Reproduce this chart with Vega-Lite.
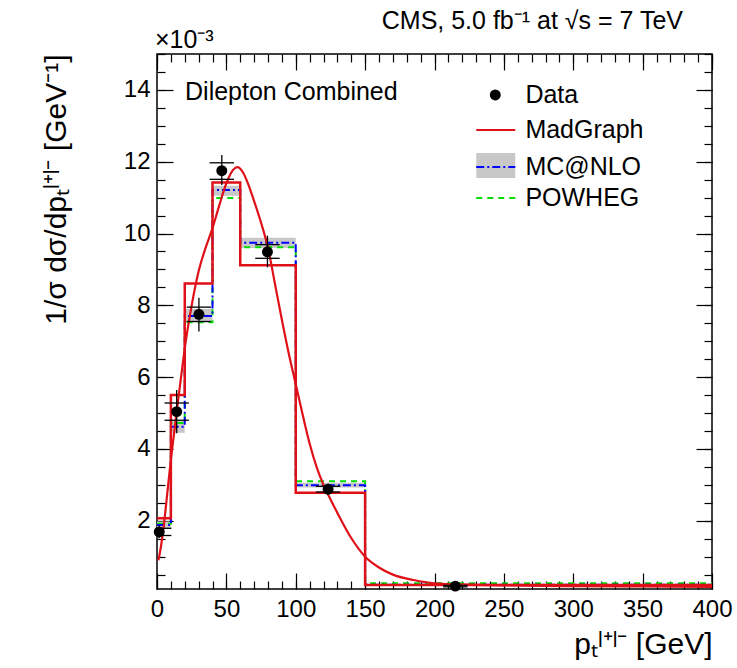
{
  "$schema": "https://vega.github.io/schema/vega-lite/v6.json",
  "width": 555,
  "height": 535,
  "autosize": {"type": "none"},
  "padding": {"left": 157, "top": 54, "right": 25, "bottom": 79},
  "background": "white",
  "title": {"text": "CMS, 5.0 fb⁻¹ at √s = 7 TeV", "anchor": "end", "frame": "group", "fontSize": 25, "font": "Liberation Sans", "fontWeight": "normal", "color": "black", "offset": -6, "dx": -29},
  "config": {
    "view": {"stroke": "black", "strokeWidth": 1.5},
    "font": "Liberation Sans",
    "axis": {"grid": false, "domain": false, "labelFont": "Liberation Sans", "labelFontSize": 24, "labelColor": "black", "tickColor": "black", "tickWidth": 1.2, "titleColor": "black", "titleFont": "Liberation Sans", "titleFontWeight": "normal", "labelFlush": false, "labelOverlap": false}
  },
  "datasets": {
    "bins": [
      {"lo": 0, "hi": 10, "bandLo": 1.8, "bandHi": 1.98},
      {"lo": 10, "hi": 20, "bandLo": 4.45, "bandHi": 4.78},
      {"lo": 20, "hi": 40, "bandLo": 7.53, "bandHi": 7.9},
      {"lo": 40, "hi": 60, "bandLo": 11.05, "bandHi": 11.33},
      {"lo": 60, "hi": 100, "bandLo": 9.6, "bandHi": 9.88},
      {"lo": 100, "hi": 150, "bandLo": 2.93, "bandHi": 3.06},
      {"lo": 150, "hi": 400, "bandLo": 0.2, "bandHi": 0.24}
    ],
    "steps": [
      {"x": 0, "mg": 2.07, "mc": 1.88, "pw": 1.92},
      {"x": 10, "mg": 5.5, "mc": 4.62, "pw": 4.72},
      {"x": 20, "mg": 8.61, "mc": 7.7, "pw": 7.53},
      {"x": 40, "mg": 11.42, "mc": 11.21, "pw": 10.99},
      {"x": 60, "mg": 9.12, "mc": 9.74, "pw": 9.62},
      {"x": 100, "mg": 2.78, "mc": 2.99, "pw": 3.1},
      {"x": 150, "mg": 0.21, "mc": 0.22, "pw": 0.26},
      {"x": 400, "mg": 0.21, "mc": 0.22, "pw": 0.26}
    ],
    "curve": [
      {"x": 1, "y": 0.9}, {"x": 2.5, "y": 1.2}, {"x": 5, "y": 1.9}, {"x": 7.5, "y": 2.8},
      {"x": 10, "y": 3.7}, {"x": 12.5, "y": 4.5}, {"x": 15, "y": 5.3}, {"x": 17.5, "y": 6.05},
      {"x": 20, "y": 6.8}, {"x": 25, "y": 8.0}, {"x": 30, "y": 8.95}, {"x": 35, "y": 9.6},
      {"x": 40, "y": 10.15}, {"x": 45, "y": 10.8}, {"x": 50, "y": 11.4}, {"x": 55, "y": 11.78},
      {"x": 58, "y": 11.85}, {"x": 62, "y": 11.7}, {"x": 66, "y": 11.35}, {"x": 70, "y": 10.9},
      {"x": 75, "y": 10.3}, {"x": 80, "y": 9.6}, {"x": 85, "y": 8.6}, {"x": 90, "y": 7.6},
      {"x": 95, "y": 6.65}, {"x": 100, "y": 5.8}, {"x": 105, "y": 4.95}, {"x": 110, "y": 4.15},
      {"x": 115, "y": 3.5}, {"x": 120, "y": 3.0}, {"x": 125, "y": 2.6}, {"x": 130, "y": 2.22},
      {"x": 140, "y": 1.52}, {"x": 150, "y": 1.0}, {"x": 160, "y": 0.7}, {"x": 170, "y": 0.5},
      {"x": 185, "y": 0.35}, {"x": 200, "y": 0.26}, {"x": 225, "y": 0.22}, {"x": 250, "y": 0.2},
      {"x": 300, "y": 0.18}, {"x": 350, "y": 0.17}, {"x": 400, "y": 0.16}
    ],
    "points": [
      {"x": 1.6, "y": 1.69, "totLo": 1.51, "totHi": 1.87, "statLo": 1.59, "statHi": 1.79, "capLo": 0, "capHi": 10.4},
      {"x": 14.2, "y": 5.04, "totLo": 4.44, "totHi": 5.64, "statLo": 4.8, "statHi": 5.28, "capLo": 5.4, "capHi": 23.0},
      {"x": 30.2, "y": 7.75, "totLo": 7.27, "totHi": 8.21, "statLo": 7.55, "statHi": 7.95, "capLo": 21.4, "capHi": 39.0},
      {"x": 46.7, "y": 11.75, "totLo": 11.35, "totHi": 12.19, "statLo": 11.51, "statHi": 11.97, "capLo": 37.9, "capHi": 55.5},
      {"x": 79.6, "y": 9.49, "totLo": 9.06, "totHi": 9.94, "statLo": 9.31, "statHi": 9.69, "capLo": 70.8, "capHi": 88.4},
      {"x": 123.3, "y": 2.88, "totLo": 2.72, "totHi": 3.04, "statLo": 2.8, "statHi": 2.96, "capLo": 114.5, "capHi": 132.1},
      {"x": 215, "y": 0.18, "totLo": 0.15, "totHi": 0.21, "statLo": 0.16, "statHi": 0.2, "capLo": 206.2, "capHi": 223.8}
    ]
  },
  "resolve": {"axis": {"x": "independent", "y": "independent"}},
  "layer": [
    {
      "data": {"name": "bins"},
      "mark": {"type": "rect", "fill": "#c8c8c8"},
      "encoding": {
        "x": {"field": "lo", "type": "quantitative",
          "scale": {"domain": [0, 400], "nice": false, "zero": false},
          "axis": {"orient": "bottom", "values": [0, 50, 100, 150, 200, 250, 300, 350, 400], "tickSize": -16, "labelPadding": 24,
            "title": "pₜˡ⁺ˡ⁻ [GeV]", "titleFontSize": 30, "titleAnchor": "end", "titleAlign": "right", "titleX": 555, "titleY": 64, "titleBaseline": "alphabetic"}},
        "x2": {"field": "hi"},
        "y": {"field": "bandLo", "type": "quantitative",
          "scale": {"domain": [0.1, 15], "nice": false, "zero": false},
          "axis": {"orient": "left", "values": [2, 4, 6, 8, 10, 12, 14], "tickSize": -16, "labelPadding": 23,
            "title": "1/σ dσ/dpₜˡ⁺ˡ⁻ [GeV⁻¹]", "titleFontSize": 30, "titleAngle": -90, "titleAnchor": "end", "titleAlign": "right", "titleX": -92, "titleY": 0, "titleBaseline": "alphabetic"}},
        "y2": {"field": "bandHi"}
      }
    },
    {
      "data": {"name": "steps"},
      "mark": {"type": "line", "interpolate": "step-after", "color": "#00dd00", "strokeWidth": 2, "strokeDash": [6, 5]},
      "encoding": {
        "x": {"field": "x", "type": "quantitative",
          "axis": {"orient": "bottom", "values": [0,10,20,30,40,50,60,70,80,90,100,110,120,130,140,150,160,170,180,190,200,210,220,230,240,250,260,270,280,290,300,310,320,330,340,350,360,370,380,390,400], "tickSize": -8, "labels": false, "title": null}},
        "y": {"field": "pw", "type": "quantitative",
          "axis": {"orient": "left", "values": [0.5,1,1.5,2,2.5,3,3.5,4,4.5,5,5.5,6,6.5,7,7.5,8,8.5,9,9.5,10,10.5,11,11.5,12,12.5,13,13.5,14,14.5,15], "tickSize": -8, "labels": false, "title": null}}
      }
    },
    {
      "data": {"name": "steps"},
      "mark": {"type": "line", "interpolate": "step-after", "color": "#0000ff", "strokeWidth": 2, "strokeDash": [8, 3, 2, 3]},
      "encoding": {
        "x": {"field": "x", "type": "quantitative",
          "axis": {"orient": "top", "values": [0, 50, 100, 150, 200, 250, 300, 350, 400], "tickSize": -16, "labels": false, "title": null}},
        "y": {"field": "mc", "type": "quantitative",
          "axis": {"orient": "right", "values": [2, 4, 6, 8, 10, 12, 14], "tickSize": -16, "labels": false, "title": null}}
      }
    },
    {
      "data": {"name": "steps"},
      "mark": {"type": "line", "interpolate": "step-after", "color": "#e01018", "strokeWidth": 2.5},
      "encoding": {
        "x": {"field": "x", "type": "quantitative",
          "axis": {"orient": "top", "values": [0,10,20,30,40,50,60,70,80,90,100,110,120,130,140,150,160,170,180,190,200,210,220,230,240,250,260,270,280,290,300,310,320,330,340,350,360,370,380,390,400], "tickSize": -8, "labels": false, "title": null}},
        "y": {"field": "mg", "type": "quantitative",
          "axis": {"orient": "right", "values": [0.5,1,1.5,2,2.5,3,3.5,4,4.5,5,5.5,6,6.5,7,7.5,8,8.5,9,9.5,10,10.5,11,11.5,12,12.5,13,13.5,14,14.5,15], "tickSize": -8, "labels": false, "title": null}}
      }
    },
    {
      "data": {"name": "curve"},
      "mark": {"type": "line", "interpolate": "monotone", "color": "#e01018", "strokeWidth": 2.2},
      "encoding": {
        "x": {"field": "x", "type": "quantitative", "axis": null},
        "y": {"field": "y", "type": "quantitative", "axis": null}
      }
    },
    {
      "data": {"name": "points"},
      "mark": {"type": "rule", "color": "black", "strokeWidth": 1.3},
      "encoding": {
        "x": {"field": "x", "type": "quantitative", "axis": null},
        "y": {"field": "totLo", "type": "quantitative", "axis": null},
        "y2": {"field": "totHi"}
      }
    },
    {
      "data": {"name": "points"},
      "mark": {"type": "rule", "color": "black", "strokeWidth": 1.3},
      "encoding": {
        "x": {"field": "capLo", "type": "quantitative", "axis": null},
        "x2": {"field": "capHi"},
        "y": {"field": "statLo", "type": "quantitative", "axis": null}
      }
    },
    {
      "data": {"name": "points"},
      "mark": {"type": "rule", "color": "black", "strokeWidth": 1.3},
      "encoding": {
        "x": {"field": "capLo", "type": "quantitative", "axis": null},
        "x2": {"field": "capHi"},
        "y": {"field": "statHi", "type": "quantitative", "axis": null}
      }
    },
    {
      "data": {"name": "points"},
      "mark": {"type": "point", "shape": "circle", "filled": true, "color": "black", "opacity": 1, "size": 120},
      "encoding": {
        "x": {"field": "x", "type": "quantitative", "axis": null},
        "y": {"field": "y", "type": "quantitative", "axis": null}
      }
    },
    {
      "data": {"values": [{}]},
      "mark": {"type": "point", "shape": "circle", "filled": true, "color": "black", "opacity": 1, "size": 120},
      "encoding": {"x": {"datum": 243.8, "type": "quantitative", "axis": null}, "y": {"datum": 13.86, "type": "quantitative", "axis": null}}
    },
    {
      "data": {"values": [{}]},
      "mark": {"type": "rule", "color": "#e01018", "strokeWidth": 2},
      "encoding": {"x": {"datum": 230.1, "type": "quantitative", "axis": null}, "x2": {"datum": 258.2}, "y": {"datum": 12.88, "type": "quantitative", "axis": null}}
    },
    {
      "data": {"values": [{}]},
      "mark": {"type": "rect", "fill": "#c8c8c8"},
      "encoding": {"x": {"datum": 230.1, "type": "quantitative", "axis": null}, "x2": {"datum": 258.2}, "y": {"datum": 11.55, "type": "quantitative", "axis": null}, "y2": {"datum": 12.24}}
    },
    {
      "data": {"values": [{}]},
      "mark": {"type": "rule", "color": "#0000ff", "strokeWidth": 2, "strokeDash": [8, 3, 2, 3]},
      "encoding": {"x": {"datum": 230.1, "type": "quantitative", "axis": null}, "x2": {"datum": 258.2}, "y": {"datum": 11.85, "type": "quantitative", "axis": null}}
    },
    {
      "data": {"values": [{}]},
      "mark": {"type": "rule", "color": "#00dd00", "strokeWidth": 2, "strokeDash": [6, 5]},
      "encoding": {"x": {"datum": 230.1, "type": "quantitative", "axis": null}, "x2": {"datum": 258.2}, "y": {"datum": 10.99, "type": "quantitative", "axis": null}}
    },
    {
      "data": {"values": [{}]},
      "mark": {"type": "text", "text": "Data", "align": "left", "baseline": "middle", "fontSize": 25, "color": "black"},
      "encoding": {"x": {"datum": 265.5, "type": "quantitative", "axis": null}, "y": {"datum": 13.86, "type": "quantitative", "axis": null}}
    },
    {
      "data": {"values": [{}]},
      "mark": {"type": "text", "text": "MadGraph", "align": "left", "baseline": "middle", "fontSize": 25, "color": "black"},
      "encoding": {"x": {"datum": 265.5, "type": "quantitative", "axis": null}, "y": {"datum": 12.88, "type": "quantitative", "axis": null}}
    },
    {
      "data": {"values": [{}]},
      "mark": {"type": "text", "text": "MC@NLO", "align": "left", "baseline": "middle", "fontSize": 25, "color": "black"},
      "encoding": {"x": {"datum": 265.5, "type": "quantitative", "axis": null}, "y": {"datum": 11.85, "type": "quantitative", "axis": null}}
    },
    {
      "data": {"values": [{}]},
      "mark": {"type": "text", "text": "POWHEG", "align": "left", "baseline": "middle", "fontSize": 25, "color": "black"},
      "encoding": {"x": {"datum": 265.5, "type": "quantitative", "axis": null}, "y": {"datum": 10.99, "type": "quantitative", "axis": null}}
    },
    {
      "data": {"values": [{}]},
      "mark": {"type": "text", "text": "Dilepton Combined", "align": "left", "baseline": "alphabetic", "fontSize": 25, "color": "black"},
      "encoding": {"x": {"datum": 20.2, "type": "quantitative", "axis": null}, "y": {"datum": 13.72, "type": "quantitative", "axis": null}}
    },
    {
      "data": {"values": [{}]},
      "mark": {"type": "text", "text": "×10⁻³", "align": "left", "baseline": "alphabetic", "fontSize": 25, "color": "black"},
      "encoding": {"x": {"datum": -1.5, "type": "quantitative", "axis": null}, "y": {"datum": 15.17, "type": "quantitative", "axis": null}}
    }
  ]
}
